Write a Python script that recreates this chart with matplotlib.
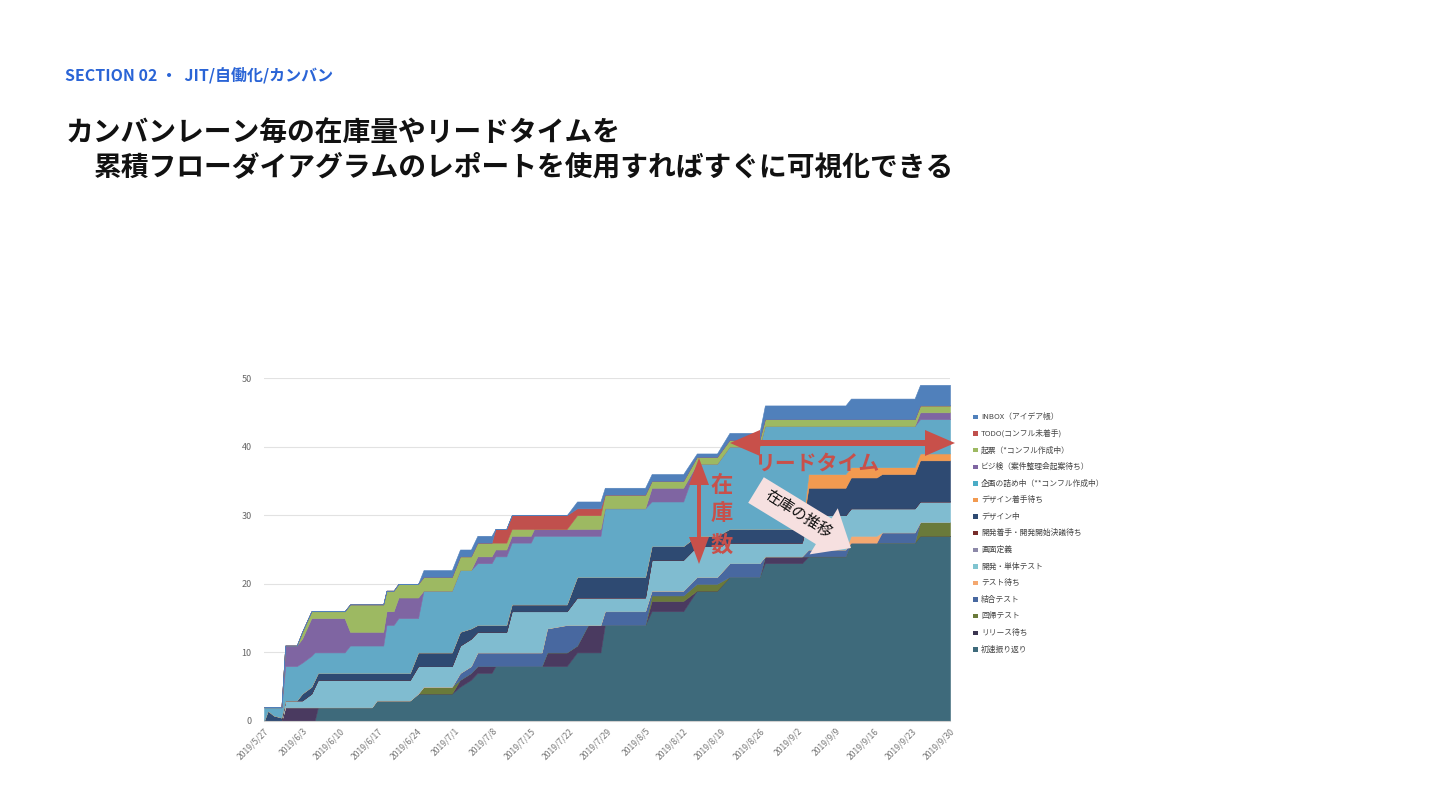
import matplotlib
matplotlib.use('Agg')
import matplotlib.pyplot as plt
from matplotlib.patches import FancyArrow, Rectangle

plt.rcParams['font.family'] = ['Noto Sans CJK JP', 'DejaVu Sans']

# days since 2019/5/27 where the flow changes
days = [0, 0.7, 1.8, 3.2, 3.9, 6.0, 7.0, 8.7, 9.3, 9.9,
        14.8, 15.8, 19.8, 20.7, 21.9, 22.5, 23.8, 24.7, 26.8, 28.3,
        29.3, 34.5, 36.0, 38.0, 39.2, 41.8, 42.5, 44.5, 45.5, 49.0,
        49.6, 51.0, 52.0, 55.6, 57.5, 59.5, 61.8, 62.6, 70.0, 71.2,
        77.0, 79.5, 83.2, 85.5, 91.0, 92.0, 98.8, 100.0, 106.8, 107.8,
        112.5, 113.5, 119.5, 120.5, 126.0]

# bottom to top
shosoku = [0, 0, 0, 0, 0, 0, 0, 0, 0, 2, 2, 2, 2, 3, 3, 3, 3, 3, 3, 4,
           4, 4, 5, 6, 7, 7, 8, 8, 8, 8, 8, 8, 8, 8, 10, 10, 10, 14, 14, 16,
           16, 19, 19, 21, 21, 23, 23, 24, 24, 26, 26, 26, 26, 27, 27]
release_wait = [0, 0, 0, 0, 2, 2, 2, 2, 2, 0, 0, 0, 0, 0, 0, 0, 0, 0, 0, 0,
                0, 0, 1, 1, 1, 1, 0, 0, 0, 0, 0, 0, 2, 2, 1, 4, 4, 0, 0, 1.5,
                1.5, 0, 0, 0, 0, 1, 1, 0, 0, 0, 0, 0, 0, 0, 0]
regression = [0, 0, 0, 0, 0, 0, 0, 0, 0, 0, 0, 0, 0, 0, 0, 0, 0, 0, 0, 0,
              1, 1, 0, 0, 0, 0, 0, 0, 0, 0, 0, 0, 0, 0, 0, 0, 0, 0, 0, 0.8,
              0.8, 1, 1, 0, 0, 0, 0, 0, 0, 0, 0, 0, 0, 2, 2]
integration = [0, 0, 0, 0, 0, 0, 0, 0, 0, 0, 0, 0, 0, 0, 0, 0, 0, 0, 0, 0,
               0, 0, 1, 1, 2, 2, 2, 2, 2, 2, 2, 2, 3.5, 4, 3, 0, 0, 2, 2, 0.7,
               0.7, 1, 1, 2, 2, 0, 0, 1, 1, 0, 0, 1.5, 1.5, 0, 0]
test_wait = [0, 0, 0, 0, 0, 0, 0, 0, 0, 0, 0, 0, 0, 0, 0, 0, 0, 0, 0, 0,
             0, 0, 0, 0, 0, 0, 0, 0, 0, 0, 0, 0, 0, 0, 0, 0, 0, 0, 0, 0,
             0, 0, 0, 0, 0, 0, 0, 0, 0, 1, 1, 0, 0, 0, 0]
dev_unit = [0, 0, 0, 0, 1, 1, 1, 2, 3, 4, 4, 4, 4, 3, 3, 3, 3, 3, 3, 4,
            3, 3, 4, 4, 3, 3, 3, 3, 6, 6, 6, 6, 2.5, 2, 4, 4, 4, 2, 2, 4.5,
            4.5, 4.5, 4.5, 3, 3, 2, 2, 5, 5, 4, 4, 3.5, 3.5, 3, 3]
screen_def = [0, 0, 0, 0, 0, 0, 0, 0, 0, 0, 0, 0, 0, 0, 0, 0, 0, 0, 0, 0,
              0, 0, 0, 0, 0, 0, 0, 0, 0, 0, 0, 0, 0, 0, 0, 0, 0, 0, 0, 0,
              0, 0, 0, 0, 0, 0, 0, 0, 0, 0, 0, 0, 0, 0, 0]
dev_start_wait = [0, 0, 0, 0, 0, 0, 0, 0, 0, 0, 0, 0, 0, 0, 0, 0, 0, 0, 0, 0,
                  0, 0, 0, 0, 0, 0, 0, 0, 0, 0, 0, 0, 0, 0, 0, 0, 0, 0, 0, 0,
                  0, 0, 0, 0, 0, 0, 0, 0, 0, 0, 0, 0, 0, 0, 0]
design = [0, 1.5, 0.8, 0.5, 0, 0, 1, 1, 1, 1, 1, 1, 1, 1, 1, 1, 1, 1, 1, 2,
          2, 2, 2, 1.5, 1, 1, 1, 1, 1, 1, 1, 1, 1, 1, 3, 3, 3, 3, 3, 2,
          2, 1.5, 1.5, 2, 2, 2, 2, 4, 4, 4.5, 4.5, 5, 5, 6, 6]
design_wait = [0, 0, 0, 0, 0, 0, 0, 0, 0, 0, 0, 0, 0, 0, 0, 0, 0, 0, 0, 0,
               0, 0, 0, 0, 0, 0, 0, 0, 0, 0, 0, 0, 0, 0, 0, 0, 0, 0, 0, 0,
               0, 0, 0, 0, 0, 0, 0, 2, 2, 1.5, 1.5, 1, 1, 1, 1]
planning = [2, 0.5, 1.2, 1.5, 5, 5, 4.5, 4.5, 4, 3, 3, 4, 4, 4, 4, 7, 7, 8, 8, 5,
            9, 9, 9, 8.5, 9, 9, 10, 10, 9, 9, 10, 10, 10, 10, 6, 6, 6, 10, 10, 6.5,
            6.5, 10.5, 10.5, 12, 12, 15, 15, 7, 7, 6, 6, 6, 6, 5, 5]
bizcheck = [0, 0, 0, 0, 3, 3, 3.5, 5.5, 5, 5, 5, 2, 2, 2, 2, 2, 2, 3, 3, 3,
            0, 0, 0, 0, 1, 1, 1, 1, 1, 1, 1, 1, 1, 1, 1, 1, 1, 0, 0, 2,
            2, 0, 0, 0, 0, 0, 0, 0, 0, 0, 0, 0, 0, 1, 1]
kihyo = [0, 0, 0, 0, 0, 0, 1, 1, 1, 1, 1, 4, 4, 4, 4, 3, 3, 2, 2, 2,
         2, 2, 2, 2, 2, 2, 1, 1, 1, 1, 0, 0, 0, 0, 2, 2, 2, 2, 2, 1,
         1, 1, 1, 1, 1, 1, 1, 1, 1, 1, 1, 1, 1, 1, 1]
todo = [0, 0, 0, 0, 0, 0, 0, 0, 0, 0, 0, 0, 0, 0, 0, 0, 0, 0, 0, 0,
        0, 0, 0, 0, 0, 0, 2, 2, 2, 2, 2, 2, 2, 2, 1, 1, 1, 0, 0, 0,
        0, 0, 0, 0, 0, 0, 0, 0, 0, 0, 0, 0, 0, 0, 0]
inbox = [0, 0, 0, 0, 0, 0, 0, 0, 0, 0, 0, 0, 0, 0, 0, 0, 0, 0, 0, 0,
         1, 1, 1, 1, 1, 1, 0, 0, 0, 0, 0, 0, 0, 0, 1, 1, 1, 1, 1, 1,
         1, 0.5, 0.5, 1, 1, 2, 2, 2, 2, 3, 3, 3, 3, 3, 3]

series = [shosoku, release_wait, regression, integration, test_wait, dev_unit,
          screen_def, dev_start_wait, design, design_wait, planning, bizcheck,
          kihyo, todo, inbox]
labels = ['初速振り返り', 'リリース待ち', '回帰テスト', '結合テスト', 'テスト待ち',
          '開発・単体テスト', '画面定義', '開発着手・開発開始決議待ち', 'デザイン中',
          'デザイン着手待ち', '企画の詰め中（**コンフル作成中）', 'ビジ検（案件整理会起案待ち）',
          '起票（*コンフル作成中）', 'TODO(コンフル未着手)', 'INBOX（アイデア帳）']
colors = ['#3e6a7b', '#4a3a60', '#6a7a3a', '#4868a0', '#f4a870',
          '#80bcd0', '#8c88a8', '#772c2a', '#2e4a72',
          '#f29a50', '#62a9c6', '#7f65a2',
          '#9db962', '#c0504d', '#5080bb']
legend_colors = ['#3e6a7b', '#3b3550', '#6a7a3a', '#4868a0', '#f4a870',
                 '#80c4d0', '#8c88a8', '#772c2a', '#2e4a72',
                 '#f29a50', '#4bacc6', '#7f65a2',
                 '#9db962', '#c0504d', '#5080bb']

tick_days = [0, 7, 14, 21, 28, 35, 42, 49, 56, 63, 70, 77, 84, 91, 98, 105, 112, 119, 126]
tick_labels = ['2019/5/27', '2019/6/3', '2019/6/10', '2019/6/17', '2019/6/24',
               '2019/7/1', '2019/7/8', '2019/7/15', '2019/7/22', '2019/7/29',
               '2019/8/5', '2019/8/12', '2019/8/19', '2019/8/26', '2019/9/2',
               '2019/9/9', '2019/9/16', '2019/9/23', '2019/9/30']

W, H = 1440, 810
fig = plt.figure(figsize=(14.4, 8.1), dpi=100)

# chart
ax = fig.add_axes([264 / W, 1 - 721 / H, (950 - 264) / W, (721 - 378) / H])
polys = ax.stackplot(days, *series, colors=colors, linewidth=0.4)
for p, c in zip(polys, colors):
    p.set_edgecolor(c)
ax.set_xlim(0, 126)
ax.set_ylim(0, 50)
ax.set_yticks([0, 10, 20, 30, 40, 50])
ax.yaxis.grid(True, color='#e2e2e2', linewidth=0.8)
ax.set_axisbelow(True)
for s in ['top', 'right', 'left']:
    ax.spines[s].set_visible(False)
ax.spines['bottom'].set_color('#d0d0d0')
ax.tick_params(axis='y', length=0, labelsize=6.5, labelcolor='#666666', pad=9)
ax.set_xticks(tick_days)
ax.set_xticklabels(tick_labels, rotation=45, ha='right', rotation_mode='anchor')
ax.tick_params(axis='x', length=0, labelsize=6.2, labelcolor='#777777', pad=4)

# legend, drawn by hand to keep spacing
for i, (lab, col) in enumerate(zip(labels[::-1], legend_colors[::-1])):
    y = 417 + i * 16.6
    fig.patches.append(Rectangle(((973) / W, 1 - (y + 2.2) / H), 4.5 / W, 4.5 / H,
                                 transform=fig.transFigure, facecolor=col, edgecolor='none'))
    fig.text(981 / W, 1 - y / H, lab, fontsize=5.6, color='#444444', va='center', ha='left')

# header texts
fig.text(65 / W, 1 - 75 / H, 'SECTION 02 ・  JIT/自働化/カンバン', fontsize=11.5,
         fontweight='bold', color='#2a64d6', va='center', ha='left')
fig.text(66 / W, 1 - 133 / H, 'カンバンレーン毎の在庫量やリードタイムを', fontsize=20,
         fontweight='bold', color='#111111', va='center', ha='left')
fig.text(94 / W, 1 - 167 / H, '累積フローダイアグラムのレポートを使用すればすぐに可視化できる',
         fontsize=20, fontweight='bold', color='#111111', va='center', ha='left')

# overlay in pixel coordinates for the annotations
ov = fig.add_axes([0, 0, 1, 1])
ov.set_xlim(0, W)
ov.set_ylim(H, 0)
ov.axis('off')
red = '#c8504a'

# horizontal lead-time arrow
ov.add_patch(FancyArrow(843, 443, 112, 0, width=6, head_width=26, head_length=30,
                        length_includes_head=True, color=red, linewidth=0))
ov.add_patch(FancyArrow(843, 443, -113, 0, width=6, head_width=26, head_length=30,
                        length_includes_head=True, color=red, linewidth=0))
ov.text(818, 463, 'リードタイム', fontsize=15, fontweight='bold', color=red,
        ha='center', va='center')

# vertical stock arrow
ov.add_patch(FancyArrow(699, 510, 0, -52, width=4, head_width=20, head_length=27,
                        length_includes_head=True, color=red, linewidth=0))
ov.add_patch(FancyArrow(699, 510, 0, 54, width=4, head_width=20, head_length=27,
                        length_includes_head=True, color=red, linewidth=0))
for ch, yy in zip('在庫数', [485, 514, 545]):
    ov.text(722, yy, ch, fontsize=16, fontweight='bold', color=red, ha='center', va='center')

# pink block arrow
ov.add_patch(FancyArrow(756, 490, 95, 58, width=30, head_width=54, head_length=32,
                        length_includes_head=True, facecolor='#f6e0e0', edgecolor='none'))
ov.text(798, 514, '在庫の推移', fontsize=11, color='#111111', rotation=-33,
        rotation_mode='anchor', ha='center', va='center')

fig.savefig('out.png', dpi=100, facecolor='white')
